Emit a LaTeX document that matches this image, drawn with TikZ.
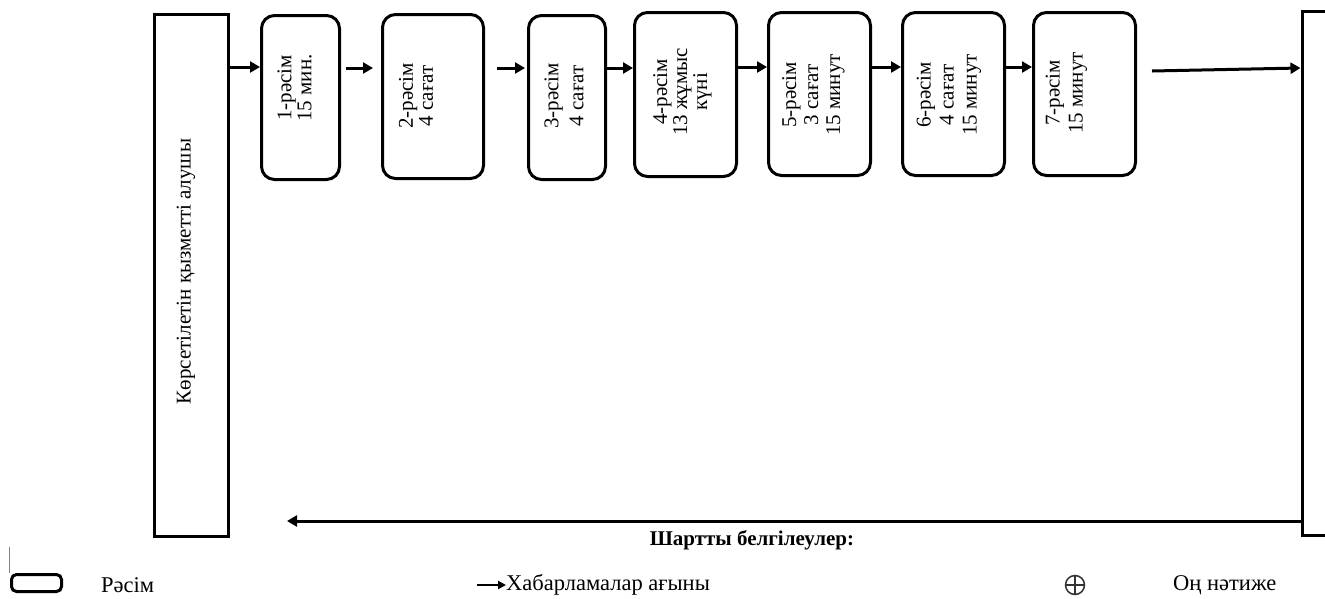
\documentclass[tikz,border=0pt]{standalone}
\usepackage{fontspec}
\setmainfont{Liberation Serif}
\usetikzlibrary{arrows.meta}
\begin{document}
\begin{tikzpicture}[x=1pt,y=-1pt,
  proc/.style={draw, line width=3pt, rounded corners=13pt, inner sep=0pt},
  plain/.style={draw, line width=3pt, inner sep=0pt},
  flow/.style={line width=3pt, -{Triangle[length=10pt,width=11pt]}},
  lbl/.style={rotate=90, align=center, font=\fontsize{21}{20}\selectfont, inner sep=0pt},
  leg/.style={font=\fontsize{22.5}{24}\selectfont, inner sep=0pt, anchor=west}]
\useasboundingbox (0,0) rectangle (1325,598);
% boxes
\node[plain, minimum width=74pt, minimum height=522pt] (L) at (191.5,275.5) {};
\node[proc, minimum width=78pt, minimum height=164pt] (b1) at (300.5,97.5) {};
\node[proc, minimum width=101pt, minimum height=164pt] (b2) at (433,96.5) {};
\node[proc, minimum width=77pt, minimum height=164pt] (b3) at (567,97.5) {};
\node[proc, minimum width=102pt, minimum height=164pt] (b4) at (685.5,94.5) {};
\node[proc, minimum width=102pt, minimum height=163pt] (b5) at (819.5,94) {};
\node[proc, minimum width=102pt, minimum height=163pt] (b6) at (953.5,94) {};
\node[proc, minimum width=102pt, minimum height=163pt] (b7) at (1084.5,94) {};
\node[plain, minimum width=58pt, minimum height=524pt] (R) at (1331,273.5) {};
% texts
\node[lbl] (tL) at (186,271.5) {Көрсетілетін қызметті алушы};
\node[lbl] (t1) at (294.5,88) {1-рәсім\\15 мин.};
\node[lbl] (t2) at (416,96) {2-рәсім\\4 сағат};
\node[lbl, font=\fontsize{21}{25}\selectfont] (t3) at (564,96) {3-рәсім\\4 сағат};
\node[lbl] (t4) at (682.5,92) {4-рәсім\\13 жұмыс\\күні};
\node[lbl, font=\fontsize{21}{22}\selectfont] (t5) at (813.5,95) {5-рәсім\\3 сағат\\15 минут};
\node[lbl, font=\fontsize{21}{23}\selectfont] (t6) at (949,95) {6-рәсім\\4 сағат\\15 минут};
\node[lbl, font=\fontsize{21}{23}\selectfont] (t7) at (1066.5,93) {7-рәсім\\15 минут};
% connectors
\draw[flow] (L.east |- 0,67) -- (b1.west |- 0,67);
\draw[flow, shorten <=5pt, shorten >=8pt] (b1.east |- 0,68) -- (b2.west |- 0,68);
\draw[flow, shorten <=12pt, shorten >=2pt] (b2.east |- 0,68) -- (b3.west |- 0,68);
\draw[flow] (b3.east |- 0,68) -- (b4.west |- 0,68);
\draw[flow] (b4.east |- 0,67) -- (b5.west |- 0,67);
\draw[flow] (b5.east |- 0,67) -- (b6.west |- 0,67);
\draw[flow] (b6.east |- 0,67) -- (b7.west |- 0,67);
\coordinate (c7) at (1152,71);
\draw[flow] (c7) -- (R.west |- 0,68);
\coordinate (bend) at (287,521);
\draw[flow] (R.west |- 0,521) -- (bend);
% legend
\node[font=\bfseries\fontsize{21}{22}\selectfont, inner sep=0pt] (title) at (752,540) {Шартты белгілеулер:};
\draw[line width=0.8pt, gray] (9,547) -- (9,573);
\node[proc, rounded corners=5pt, minimum width=50pt, minimum height=17pt] (lr) at (36.5,583) {};
\node[leg] (lt1) at (101,585) {Рәсім};
\coordinate (la1) at (477,585);
\node[leg] (lt2) at (506,585) {Хабарламалар ағыны};
\draw[line width=2.2pt, -{Triangle[length=8pt,width=8pt]}] (la1) -- (lt2.west);
\node[circle, draw=black!80, line width=1.5pt, minimum size=19pt, inner sep=0pt] (pl) at (1075,585) {};
\draw[black!80, line width=1.5pt] (pl.north) -- (pl.south) (pl.west) -- (pl.east);
\node[leg] (lt3) at (1173,585) {Оң нәтиже};
\end{tikzpicture}
\end{document}
